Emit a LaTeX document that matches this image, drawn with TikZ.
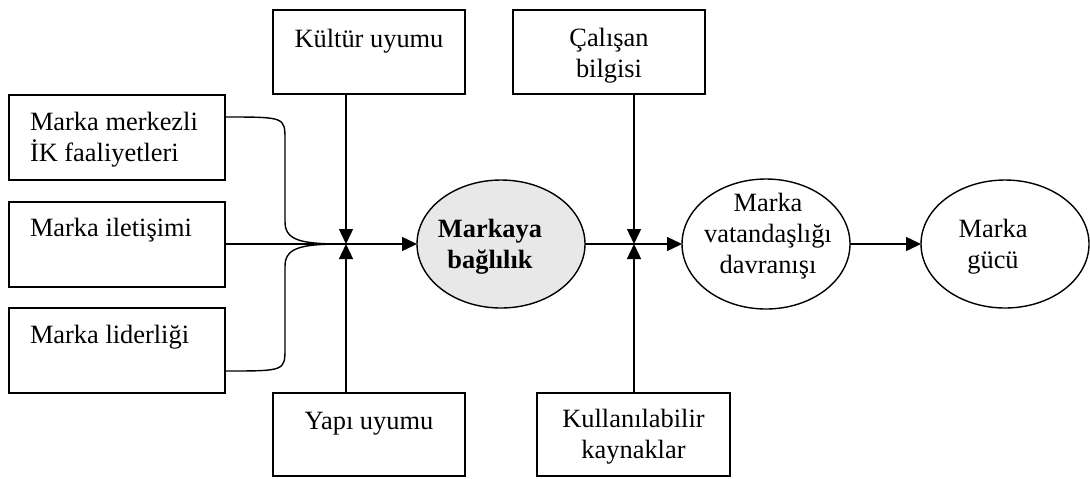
\documentclass[tikz,border=0pt]{standalone}
\usepackage{fontspec}
\setmainfont{Liberation Serif}
\usetikzlibrary{arrows.meta,shapes.geometric}
\begin{document}
\begin{tikzpicture}[x=0.5pt,y=-0.5pt,
  font=\fontsize{13.2}{15.4}\selectfont,
  every node/.style={inner sep=0pt, outer sep=0pt},
  box/.style 2 args={draw, line width=0.7pt, rectangle,
    minimum width=#1*0.5pt, minimum height=#2*0.5pt},
  oval/.style={draw, line width=0.7pt, ellipse,
    minimum width=168*0.5pt, minimum height=128*0.5pt},
  txt/.style={anchor=base west, align=left},
  ctxt/.style={anchor=base, align=center},
  link/.style={line width=0.7pt},
  arr/.style={line width=0.7pt, -{Triangle[length=7.5pt,width=7pt]}}]
\useasboundingbox (0,0) rectangle (1090,478);

% input boxes on the left (text anchored at the baseline of its last line)
\node[box={216}{85}] (b1) at (117,137.5) {};
\node[box={216}{85}] (b2) at (117,244.5) {};
\node[box={216}{85}] (b3) at (117,350.5) {};
\node[txt] (t1) at (30,161) {Marka merkezli\\İK faaliyetleri};
\node[txt] (t2) at (30,236) {Marka iletişimi};
\node[txt] (t3) at (30,343) {Marka liderliği};

% moderator boxes
\node[box={192}{84}] (kultur) at (369,52) {};
\node[ctxt] (tk) at (369,47) {Kültür uyumu};
\node[box={192}{83}] (yapi) at (369,434.5) {};
\node[ctxt] (ty) at (369,429) {Yapı uyumu};
\node[box={192}{84}] (calisan) at (609,52) {};
\node[ctxt] (tc) at (609,77) {Çalışan\\bilgisi};
\node[box={193}{83}] (kaynak) at (633.5,434.5) {};
\node[ctxt] (tky) at (633.5,458) {Kullanılabilir\\kaynaklar};

% junction points
\coordinate (j1) at (346,244);
\coordinate (j2) at (634,244);

% ellipses
\node[oval, fill=black!9] (e1) at (501,244) {};
\node[ctxt, font=\fontsize{13.2}{15.4}\selectfont\bfseries] (te1) at (490,268) {Markaya\\bağlılık};
\node[oval, minimum height=130*0.5pt] (e2) at (766,244) {};
\node[ctxt] (te2) at (768,273) {Marka\\vatandaşlığı\\davranışı};
\node[oval] (e3) at (1005,244) {};
\node[ctxt] (te3) at (993,268) {Marka\\gücü};

% connectors
\draw[link] (b1.east |- 0,117) .. controls (285,117) .. (285,140) -- (285,222)
  .. controls (285,242) and (305,244) .. (j1);
\draw[link] (b3.east |- 0,371) .. controls (285,371) .. (285,348) -- (285,266)
  .. controls (285,246) and (305,244) .. (j1);
\draw[link] (b2.east |- j1) -- (j1);
\draw[arr] (kultur.south -| j1) -- (j1);
\draw[arr] (yapi.north -| j1) -- (j1);
\draw[arr] (j1) -- (e1.west);
\draw[link] (e1.east) -- (j2);
\draw[arr] (calisan.south -| j2) -- (j2);
\draw[arr] (kaynak.north -| j2) -- (j2);
\draw[arr] (j2) -- (e2.west);
\draw[arr] (e2.east) -- (e3.west);
\end{tikzpicture}
\end{document}
